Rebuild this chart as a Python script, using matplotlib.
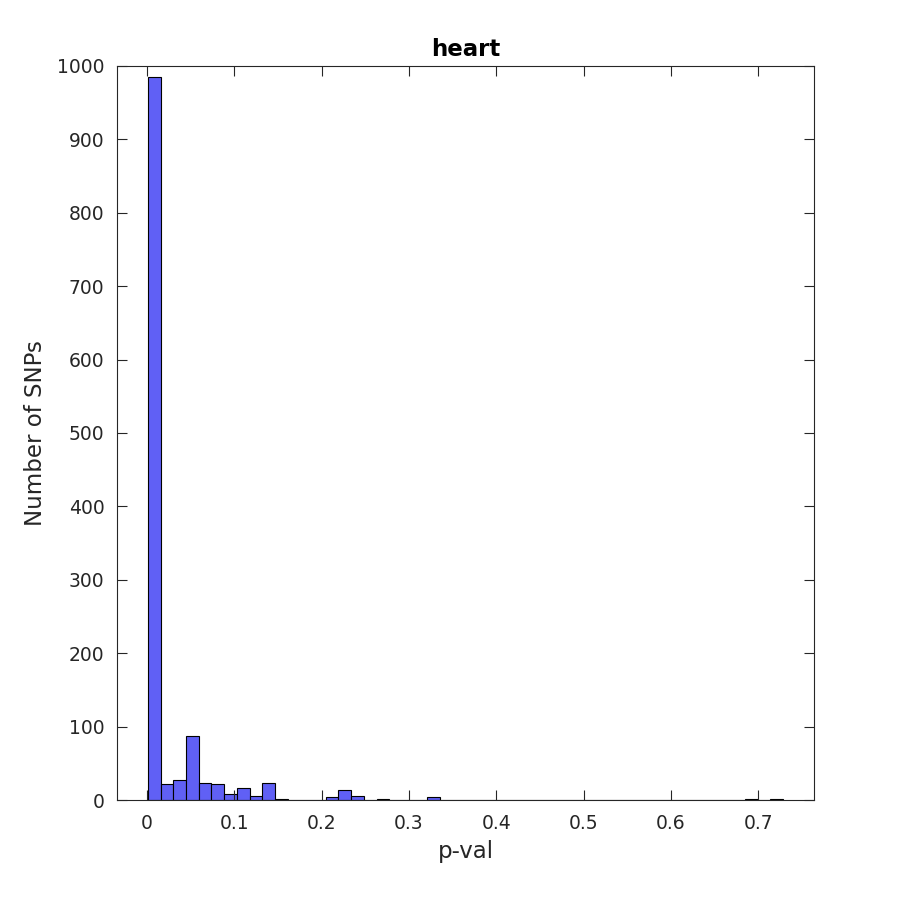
import matplotlib
matplotlib.use('Agg')
import matplotlib.pyplot as plt
import numpy as np

# histogram of p-values, 50 bins between the smallest and largest value
p_min = 0.001
p_max = 0.7285
counts = [985, 22, 27, 87, 23, 22, 8, 17, 6, 23,
          2, 0, 0, 0, 4, 14, 5, 0, 2, 0,
          0, 0, 4, 0, 0, 0, 0, 0, 0, 0,
          0, 0, 0, 0, 0, 0, 0, 0, 0, 0,
          0, 0, 0, 0, 0, 0, 0, 1, 0, 2]
xticks = [0, 0.1, 0.2, 0.3, 0.4, 0.5, 0.6, 0.7]
yticks = list(range(0, 1001, 100))

edges = np.linspace(p_min, p_max, len(counts) + 1)
ink = '#262626'

plt.rcParams['font.family'] = ['DejaVu Sans']
fig = plt.figure(figsize=(9, 9), dpi=100)
ax = fig.add_axes((0.13, 0.1111, 0.7744, 0.8156))

ax.hist(edges[:-1], bins=edges, weights=counts,
        facecolor='#6060f5', edgecolor='black', linewidth=0.8)

ax.set_xlim(-0.0344, 0.764)
ax.set_ylim(0, 1000)
ax.set_xticks(xticks)
ax.set_xticklabels(['0' if t == 0 else f'{t:g}' for t in xticks])
ax.set_yticks(yticks)

ax.tick_params(direction='in', length=7, width=0.8, colors=ink,
               labelsize=13.5, top=True, right=True)
ax.tick_params(axis='y', pad=9)
ax.tick_params(axis='x', pad=10)
for s in ax.spines.values():
    s.set_color(ink)
    s.set_linewidth(0.8)

ax.set_xlabel('p-val', fontsize=16.5, color=ink, labelpad=5)
ax.set_ylabel('Number of SNPs', fontsize=16.5, color=ink, labelpad=7)
ax.set_title('heart', fontsize=16.5, fontweight='bold', color='black', pad=7)

fig.savefig('out.png', dpi=100)
